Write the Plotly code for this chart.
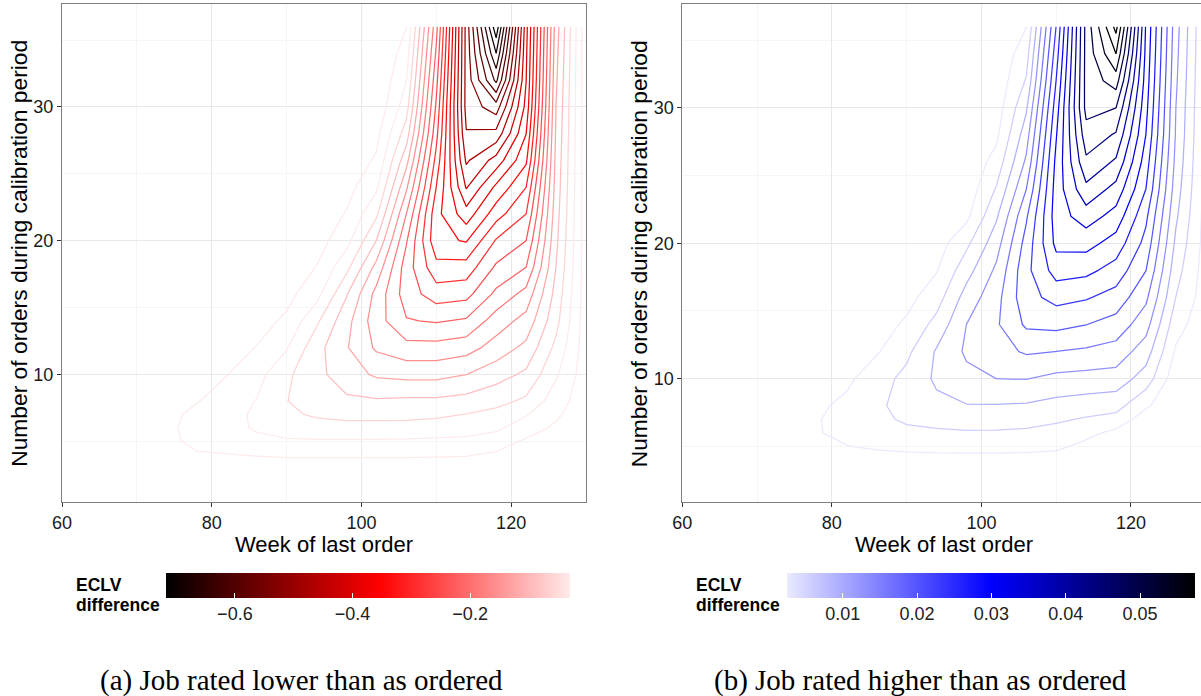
import numpy as np
import plotly.graph_objects as go

# ---------------- data ----------------
week = [70, 74, 78, 82, 86, 90, 94, 98, 102, 106, 110, 114, 118, 122, 126, 130]
orders = [2, 3, 4, 5, 6, 7, 8, 10, 12, 14, 16, 18, 20, 22, 24, 26, 28, 30, 32, 34, 36]

# (a) ECLV difference, job rated lower than as ordered.
# One inner list per week column; values follow `orders`.
eclv_lower_cols = [
    [-0.001, -0.003, -0.006, -0.009, -0.010, -0.009, -0.007, -0.004, -0.002, 0, 0, 0, 0, 0, 0, 0, 0, 0, 0, 0, 0],
    [-0.003, -0.008, -0.015, -0.022, -0.024, -0.021, -0.016, -0.009, -0.005, -0.002, 0, 0, 0, 0, 0, 0, 0, 0, 0, 0, 0],
    [-0.004, -0.012, -0.028, -0.040, -0.043, -0.040, -0.029, -0.018, -0.010, -0.005, -0.002, 0, 0, 0, 0, 0, 0, 0, 0, 0, 0],
    [-0.005, -0.014, -0.030, -0.045, -0.052, -0.052, -0.046, -0.030, -0.018, -0.010, -0.005, -0.002, 0, 0, 0, 0, 0, 0, 0, 0, 0],
    [-0.007, -0.017, -0.033, -0.054, -0.064, -0.065, -0.062, -0.050, -0.032, -0.020, -0.012, -0.006, -0.003, 0, 0, 0, 0, 0, 0, 0, 0],
    [-0.009, -0.018, -0.035, -0.057, -0.075, -0.085, -0.090, -0.085, -0.058, -0.036, -0.022, -0.012, -0.006, -0.002, 0, 0, 0, 0, 0, 0, 0],
    [-0.009, -0.018, -0.035, -0.058, -0.078, -0.095, -0.105, -0.112, -0.110, -0.085, -0.050, -0.032, -0.018, -0.010, -0.005, -0.002, 0, 0, 0, 0, 0],
    [-0.010, -0.018, -0.035, -0.058, -0.080, -0.100, -0.115, -0.137, -0.148, -0.140, -0.118, -0.082, -0.050, -0.033, -0.020, -0.012, -0.006, -0.003, 0, 0, 0],
    [-0.010, -0.018, -0.035, -0.058, -0.080, -0.100, -0.117, -0.155, -0.185, -0.197, -0.190, -0.160, -0.121, -0.085, -0.055, -0.035, -0.022, -0.008, -0.003, 0, 0],
    [-0.010, -0.018, -0.035, -0.057, -0.079, -0.100, -0.115, -0.160, -0.200, -0.238, -0.255, -0.255, -0.237, -0.210, -0.175, -0.140, -0.105, -0.078, -0.060, -0.045, -0.030],
    [-0.009, -0.018, -0.034, -0.056, -0.076, -0.097, -0.115, -0.160, -0.200, -0.243, -0.285, -0.320, -0.352, -0.350, -0.330, -0.310, -0.290, -0.275, -0.260, -0.245, -0.230],
    [-0.008, -0.018, -0.033, -0.055, -0.072, -0.090, -0.110, -0.151, -0.193, -0.236, -0.280, -0.317, -0.362, -0.407, -0.452, -0.484, -0.507, -0.520, -0.520, -0.520, -0.520],
    [-0.005, -0.015, -0.027, -0.045, -0.067, -0.082, -0.100, -0.133, -0.168, -0.196, -0.233, -0.265, -0.297, -0.343, -0.383, -0.437, -0.500, -0.555, -0.636, -0.688, -0.740],
    [-0.004, -0.010, -0.018, -0.027, -0.045, -0.063, -0.085, -0.115, -0.143, -0.170, -0.200, -0.240, -0.270, -0.300, -0.330, -0.365, -0.390, -0.410, -0.420, -0.425, -0.430],
    [-0.003, -0.006, -0.012, -0.018, -0.026, -0.036, -0.045, -0.065, -0.083, -0.100, -0.110, -0.120, -0.127, -0.133, -0.138, -0.142, -0.146, -0.150, -0.155, -0.160, -0.165],
    [-0.002, -0.004, -0.007, -0.009, -0.011, -0.012, -0.013, -0.014, -0.015, -0.015, -0.015, -0.015, -0.015, -0.014, -0.014, -0.013, -0.013, -0.012, -0.011, -0.010, -0.010],
]

# (b) ECLV difference, job rated higher than as ordered.
eclv_higher_cols = [
    [0] * 21,
    [0, 0, 0.0001, 0.0005, 0.0009, 0.0009, 0.0008, 0.0004, 0.0001, 0, 0, 0, 0, 0, 0, 0, 0, 0, 0, 0, 0],
    [0, 0, 0.0003, 0.0012, 0.0023, 0.0023, 0.0019, 0.0010, 0.0004, 0.0001, 0, 0, 0, 0, 0, 0, 0, 0, 0, 0, 0],
    [0, 0, 0.0006, 0.0024, 0.0033, 0.0036, 0.0033, 0.0018, 0.0008, 0.0003, 0, 0, 0, 0, 0, 0, 0, 0, 0, 0, 0],
    [0, 0, 0.0010, 0.0030, 0.0043, 0.0050, 0.0052, 0.0044, 0.0022, 0.0011, 0.0004, 0, 0, 0, 0, 0, 0, 0, 0, 0, 0],
    [0, 0, 0.0012, 0.0034, 0.0050, 0.0062, 0.0068, 0.0066, 0.0050, 0.0030, 0.0015, 0.0006, 0.0001, 0, 0, 0, 0, 0, 0, 0, 0],
    [0, 0, 0.0013, 0.0036, 0.0052, 0.0068, 0.0082, 0.0095, 0.0093, 0.0068, 0.0043, 0.0023, 0.0010, 0.0003, 0, 0, 0, 0, 0, 0, 0],
    [0, 0, 0.0013, 0.0037, 0.0054, 0.0072, 0.0088, 0.0113, 0.0127, 0.0122, 0.0103, 0.0077, 0.0050, 0.0017, 0.0005, 0, 0, 0, 0, 0, 0],
    [0, 0, 0.0013, 0.0037, 0.0054, 0.0070, 0.0088, 0.0122, 0.0143, 0.0150, 0.0143, 0.0128, 0.0108, 0.0085, 0.0060, 0.0037, 0.0018, 0.0008, 0.0003, 0, 0],
    [0, 0, 0.0012, 0.0036, 0.0052, 0.0068, 0.0086, 0.0123, 0.0158, 0.0192, 0.0208, 0.0210, 0.0199, 0.0182, 0.0154, 0.0128, 0.0107, 0.0085, 0.0060, 0.0043, 0.0024],
    [0, 0, 0.0008, 0.0033, 0.0046, 0.0062, 0.0079, 0.0113, 0.0154, 0.0196, 0.0229, 0.0265, 0.0292, 0.0300, 0.0298, 0.0292, 0.0281, 0.0268, 0.0252, 0.0236, 0.0220],
    [0, 0, 0, 0.0015, 0.0035, 0.0054, 0.0074, 0.0110, 0.0149, 0.0187, 0.0222, 0.0260, 0.0295, 0.0332, 0.0372, 0.0406, 0.0432, 0.0455, 0.0456, 0.0456, 0.0456],
    [0, 0, 0, 0, 0.0016, 0.0046, 0.0069, 0.0108, 0.0141, 0.0174, 0.0206, 0.0238, 0.0270, 0.0303, 0.0337, 0.0375, 0.0409, 0.0445, 0.0493, 0.0542, 0.0585],
    [0, 0, 0, 0, 0, 0.0008, 0.0030, 0.0075, 0.0105, 0.0135, 0.0161, 0.0187, 0.0208, 0.0226, 0.0251, 0.0267, 0.0283, 0.0293, 0.0301, 0.0307, 0.0312],
    [0, 0, 0, 0, 0, 0, 0, 0.0005, 0.0021, 0.0037, 0.0057, 0.0070, 0.0083, 0.0095, 0.0105, 0.0113, 0.0119, 0.0122, 0.0127, 0.0131, 0.0135],
    [0, 0, 0, 0, 0, 0, 0, 0, 0.0003, 0.0005, 0.0008, 0.0010, 0.0012, 0.0013, 0.0015, 0.0016, 0.0017, 0.0018, 0.0019, 0.0020, 0.0020],
]

# contour levels / colour-scale limits
lower_levels = dict(start=-0.718, end=-0.0305, size=0.02987)
higher_levels = dict(start=0.0025, end=0.0575, size=0.00323)
lower_lim = (-0.718, -0.031)
higher_lim = (0.0025, 0.0574)
lower_ticks = [-0.6, -0.4, -0.2]
lower_ticktext = ["\u22120.6", "\u22120.4", "\u22120.2"]
higher_ticks = [0.01, 0.02, 0.03, 0.04, 0.05]
higher_ticktext = ["0.01", "0.02", "0.03", "0.04", "0.05"]

x_ticks = [60, 80, 100, 120]
y_ticks = [10, 20, 30]

captions = ["(a) Job rated lower than as ordered", "(b) Job rated higher than as ordered"]

# ---------------- styling ----------------
W, H = 1201, 696
red_scale = [[0.0, "#000000"], [0.53, "#ff0000"], [1.0, "#ffeaea"]]
blue_scale = [[0.0, "#eaeaff"], [0.5, "#0000ff"], [1.0, "#000000"]]

z_lower = np.array(eclv_lower_cols).T
z_higher = np.array(eclv_higher_cols).T

fig = go.Figure()


def contour_trace(z, xa, ya, levels, cs, lim):
    return go.Contour(
        x=week, y=orders, z=z, xaxis=xa, yaxis=ya,
        contours=dict(coloring="lines", showlabels=False, **levels),
        line=dict(width=1.25, smoothing=0),
        colorscale=cs, zauto=False, zmin=lim[0], zmax=lim[1],
        showscale=False, hoverinfo="skip",
    )


def colorbar_trace(xa, ya, cs, lim, tv, tt, xc, length):
    return go.Scatter(
        x=[None], y=[None], xaxis=xa, yaxis=ya, mode="markers",
        showlegend=False, hoverinfo="skip",
        marker=dict(
            color=[lim[0]], colorscale=cs, cmin=lim[0], cmax=lim[1], showscale=True,
            colorbar=dict(
                orientation="h", x=xc / W, xanchor="center",
                y=1 - 572.5 / H, yanchor="top",
                len=length, lenmode="pixels", thickness=24.5, thicknessmode="pixels",
                xpad=0, ypad=0, outlinewidth=0,
                tickvals=tv, ticktext=tt, ticks="inside", ticklen=5,
                tickcolor="white", tickwidth=1,
                tickfont=dict(size=18, color="#222222", family="Liberation Sans"),
            ),
        ),
    )


fig.add_trace(contour_trace(z_lower, "x", "y", lower_levels, red_scale, lower_lim))
fig.add_trace(contour_trace(z_higher, "x2", "y2", higher_levels, blue_scale, higher_lim))
fig.add_trace(colorbar_trace("x", "y", red_scale, lower_lim, lower_ticks, lower_ticktext, 367.5, 404))
fig.add_trace(colorbar_trace("x2", "y2", blue_scale, higher_lim, higher_ticks, higher_ticktext, 991, 408))

ydom = [1 - 502.3 / H, 1 - 4.3 / H]

axis_common = dict(
    showline=True, linecolor="#7f7f7f", linewidth=1,
    ticks="outside", ticklen=4, tickcolor="#333333", tickwidth=1,
    showgrid=True, gridcolor="#e8e8e8", gridwidth=1, zeroline=False,
    tickfont=dict(size=18, color="#1a1a1a", family="Liberation Sans"),
)

fig.update_layout(
    width=W, height=H, margin=dict(l=0, r=0, t=0, b=0, autoexpand=False),
    paper_bgcolor="white", plot_bgcolor="white",
    font=dict(family="Liberation Sans", color="black"),
    showlegend=False,
    xaxis=dict(domain=[62 / W, 586 / W], range=[60, 130], tickvals=x_ticks, anchor="y",
               mirror=True, minor=dict(dtick=10, tick0=0, showgrid=True, gridcolor="#f5f5f5", ticks=""),
               **axis_common),
    yaxis=dict(domain=ydom, range=[0.43, 37.67], tickvals=y_ticks, anchor="x",
               mirror=True, minor=dict(dtick=5, tick0=0, showgrid=True, gridcolor="#f5f5f5", ticks=""),
               **axis_common),
    xaxis2=dict(domain=[682.3 / W, 1.0], range=[60, 60 + (W - 682.3) / 7.478], tickvals=x_ticks, anchor="y2",
                mirror=True, minor=dict(dtick=10, tick0=0, showgrid=True, gridcolor="#f5f5f5", ticks=""),
                **axis_common),
    yaxis2=dict(domain=ydom, range=[0.87, 37.645], tickvals=y_ticks, anchor="x2",
                mirror=False, minor=dict(dtick=5, tick0=0, showgrid=True, gridcolor="#f5f5f5", ticks=""),
                **axis_common),
)

ann = []
# axis titles
for xc in (324, 944):
    ann.append(dict(text="Week of last order", x=xc / W, y=1 - 544.5 / H, xref="paper", yref="paper",
                    xanchor="center", yanchor="middle", showarrow=False,
                    font=dict(size=22, color="black", family="Liberation Sans")))
for xc in (19.5, 639):
    ann.append(dict(text="Number of orders during calibration period", x=xc / W, y=1 - 253.3 / H,
                    xref="paper", yref="paper", xanchor="center", yanchor="middle", textangle=-90,
                    showarrow=False, font=dict(size=22.8, color="black", family="Liberation Sans")))
# legend titles
for xl in (74, 694):
    ann.append(dict(text="<b>ECLV</b>", x=xl / W, y=1 - 585 / H, xref="paper", yref="paper",
                    xanchor="left", yanchor="middle", showarrow=False,
                    font=dict(size=17.5, color="black", family="Liberation Sans")))
    ann.append(dict(text="<b>difference</b>", x=xl / W, y=1 - 605 / H, xref="paper", yref="paper",
                    xanchor="left", yanchor="middle", showarrow=False,
                    font=dict(size=17.5, color="black", family="Liberation Sans")))
# captions
for xc, cap in zip((301, 920.5), captions):
    ann.append(dict(text=cap, x=xc / W, y=1 - 680 / H, xref="paper", yref="paper",
                    xanchor="center", yanchor="middle", showarrow=False,
                    font=dict(size=29, color="black", family="Liberation Serif")))
fig.update_layout(annotations=ann)

fig.write_html("out.html")
